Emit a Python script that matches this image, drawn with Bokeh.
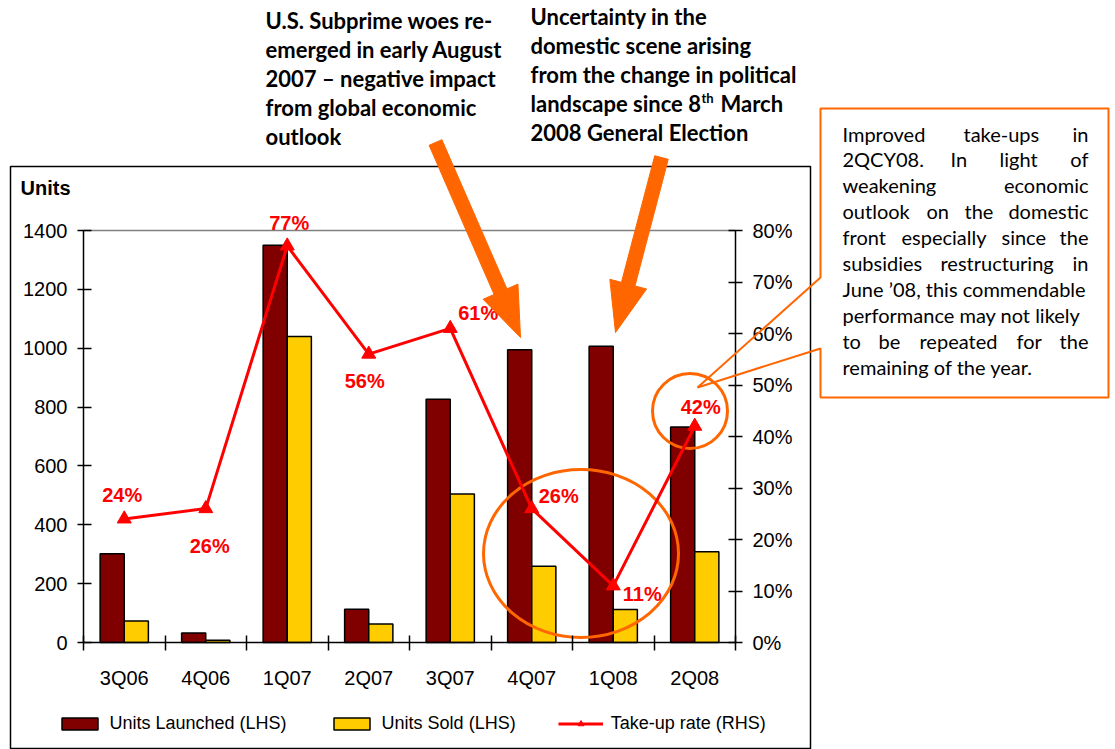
import math
from bokeh.plotting import figure
from bokeh.models import (Range1d, LinearAxis, FixedTicker, NumeralTickFormatter, Label,
                          LabelSet, ColumnDataSource, PolyAnnotation, Legend, LegendItem)
from bokeh.core.properties import value
from bokeh.embed import file_html
from bokeh.resources import INLINE

# ---------------- data ----------------
quarters = ["3Q06", "4Q06", "1Q07", "2Q07", "3Q07", "4Q07", "1Q08", "2Q08"]
units_launched = [302, 32, 1350, 113, 827, 995, 1007, 732]
units_sold = [73, 8, 1040, 63, 505, 259, 112, 308]
take_up_rate = [0.24, 0.26, 0.77, 0.56, 0.61, 0.26, 0.11, 0.42]
units_ticks = [0, 200, 400, 600, 800, 1000, 1200, 1400]
rate_ticks = [0, 0.1, 0.2, 0.3, 0.4, 0.5, 0.6, 0.7, 0.8]

# label placement (pixels) for the take-up labels
lab_dx = [-2, 4, 2, -4, 28, 27, 29, 6]
lab_dy = [24, -37, 23, -27, 15, 13, -8, 19]

# ---------------- layout ----------------
W, H = 1115, 749
FX0, FX1, FY0, FY1 = 83, 735, 230, 642
n = len(quarters)
YMAX = 1400
PMAX = 0.8
PXU = (FX1 - FX0) / n
PYU = (FY1 - FY0) / YMAX
PPU = (FY1 - FY0) / PMAX

ORANGE = "#FF6600"
MAROON = "#800000"
GOLD = "#FFCC00"
RED = "#FF0000"


def dx(px):
    return (px - FX0) / PXU


def dy(py):
    return (FY1 - py) / PYU


p = figure(width=W, height=H,
           x_range=Range1d(-FX0 / PXU, n + (W - FX1) / PXU),
           y_range=Range1d(-(H - FY1) / PYU, YMAX + FY0 / PYU),
           output_backend="svg", toolbar_location=None, min_border=0)
p.extra_y_ranges = {"pct": Range1d(-(H - FY1) / PPU, PMAX + FY0 / PPU)}
p.grid.visible = False
p.outline_line_color = None
p.background_fill_color = "white"
p.border_fill_color = "white"

AX_FONT = "Liberation Sans"

xa = p.xaxis[0]
xa.fixed_location = 0
xa.bounds = (0, n)
xa.ticker = FixedTicker(ticks=[i + 0.5 for i in range(n)], minor_ticks=list(range(n + 1)))
xa.major_label_overrides = {i + 0.5: q for i, q in enumerate(quarters)}
xa.major_tick_line_color = None
xa.major_tick_in = 0
xa.major_tick_out = 8
xa.minor_tick_in = 7
xa.minor_tick_out = 8
xa.minor_tick_line_color = "black"
xa.minor_tick_line_width = 1.5
xa.axis_line_color = "black"
xa.axis_line_width = 1.5
xa.major_label_standoff = 16
xa.major_label_text_font = AX_FONT
xa.major_label_text_font_size = "20px"
xa.major_label_text_color = "black"

ya = p.yaxis[0]
ya.fixed_location = 0
ya.bounds = (0, YMAX)
ya.ticker = FixedTicker(ticks=units_ticks)
ya.major_tick_in = 8
ya.major_tick_out = 6
ya.minor_tick_line_color = None
ya.major_tick_line_width = 1.5
ya.major_tick_line_color = "black"
ya.axis_line_width = 1.5
ya.axis_line_color = "black"
ya.major_label_standoff = 10
ya.major_label_text_font = AX_FONT
ya.major_label_text_font_size = "20px"
ya.major_label_text_color = "black"

ra = LinearAxis(y_range_name="pct", ticker=FixedTicker(ticks=rate_ticks),
                formatter=NumeralTickFormatter(format="0%"))
ra.fixed_location = n
ra.bounds = (0, PMAX)
ra.major_tick_in = 7
ra.major_tick_out = 7
ra.minor_tick_line_color = None
ra.major_tick_line_width = 1.5
ra.major_tick_line_color = "black"
ra.axis_line_width = 1.5
ra.axis_line_color = "black"
ra.major_label_standoff = 10
ra.major_label_text_font = AX_FONT
ra.major_label_text_font_size = "20px"
ra.major_label_text_color = "black"
p.add_layout(ra, "right")

src = ColumnDataSource(dict(
    xl=[i + 0.5 - 0.148 for i in range(n)],
    xs=[i + 0.5 + 0.148 for i in range(n)],
    xc=[i + 0.5 for i in range(n)],
    launched=units_launched,
    sold=units_sold,
    rate=take_up_rate,
    lab=[f"{round(r * 100)}%" for r in take_up_rate],
    ox=lab_dx,
    oy=lab_dy,
))

# plot-area top border
p.segment(x0=[0], y0=[YMAX], x1=[n], y1=[YMAX], line_color="#808080", line_width=1.5)

r1 = p.vbar(x="xl", top="launched", width=0.296, source=src, fill_color=MAROON,
            line_color="black", line_width=1.5)
r2 = p.vbar(x="xs", top="sold", width=0.296, source=src, fill_color=GOLD,
            line_color="black", line_width=1.5)

# highlight circles
p.ellipse(x=[dx(580.5), dx(689.5)], y=[dy(553), dy(410.5)], width=[195, 75], height=[168, 75],
          width_units="screen", height_units="screen", fill_alpha=0,
          line_color=ORANGE, line_width=3)

r3 = p.line(x="xc", y="rate", y_range_name="pct", source=src, line_color=RED, line_width=3)
r4 = p.scatter(x="xc", y="rate", y_range_name="pct", source=src, marker="triangle",
               size=14, fill_color=RED, line_color=RED)

p.add_layout(LabelSet(x="xc", y="rate", y_range_name="pct", text="lab", source=src,
                      x_offset="ox", y_offset="oy", text_align="center",
                      text_baseline="middle", text_color=RED, text_font=value(AX_FONT),
                      text_font_style="bold", text_font_size="20px"))

legend = Legend(items=[LegendItem(label="Units Launched (LHS)", renderers=[r1]),
                       LegendItem(label="Units Sold (LHS)", renderers=[r2]),
                       LegendItem(label="Take-up rate (RHS)", renderers=[r3, r4])],
                orientation="horizontal", location=(56.5, 15.5), glyph_width=45,
                glyph_height=15, label_standoff=8, spacing=42, padding=0, margin=0,
                border_line_color=None, background_fill_alpha=0,
                label_text_font=AX_FONT, label_text_font_size="18px",
                label_text_color="black")
p.add_layout(legend, "center")


# ---------------- decorations ----------------
def poly(points, **kw):
    xs = [dx(a) for a, b in points]
    ys = [dy(b) for a, b in points]
    return PolyAnnotation(xs=xs, ys=ys, **kw)


# outer chart border
p.add_layout(poly([(10, 166), (810, 166), (810, 748), (10, 748)], fill_alpha=0,
                  line_color="black", line_width=1.5, line_alpha=1))

# callout box with pointer
p.add_layout(poly([(820, 108), (1108, 108), (1108, 397), (820, 397), (820, 348),
                   (697, 387), (820, 277)], fill_alpha=0, line_color=ORANGE,
                  line_width=2, line_alpha=1))


def arrow_pts(x0, y0, x1, y1, shaft=14, head_len=50, head_w=38):
    L = math.hypot(x1 - x0, y1 - y0)
    ux, uy = (x1 - x0) / L, (y1 - y0) / L
    nx, ny = -uy, ux
    bx, by = x1 - ux * head_len, y1 - uy * head_len
    s, h = shaft / 2, head_w / 2
    return [(x0 + nx * s, y0 + ny * s), (bx + nx * s, by + ny * s), (bx + nx * h, by + ny * h),
            (x1, y1), (bx - nx * h, by - ny * h), (bx - nx * s, by - ny * s),
            (x0 - nx * s, y0 - ny * s)]


for (a, b, c, d) in [(435, 142, 520, 337), (661, 157, 615, 332)]:
    p.add_layout(poly(arrow_pts(a, b, c, d), fill_color=ORANGE, fill_alpha=1,
                      line_color=ORANGE, line_alpha=1, line_width=1))

# "Units" title
p.add_layout(Label(x=dx(20), y=dy(187), text="Units", text_font=AX_FONT, text_font_style="bold",
                   text_font_size="20px", text_baseline="middle", text_color="black"))

HFONT = "Lato"
head1 = ["U.S. Subprime woes re-", "emerged in early August", "2007 \u2013 negative impact",
         "from global economic", "outlook"]
for i, t in enumerate(head1):
    p.add_layout(Label(x=dx(265), y=dy(20 + 29 * i), text=t, text_font=HFONT,
                       text_font_style="bold", text_font_size="22px",
                       text_baseline="middle", text_color="black"))

head2 = ["Uncertainty in the", "domestic scene arising", "from the change in political",
         "landscape since 8", "2008 General Election"]
for i, t in enumerate(head2):
    p.add_layout(Label(x=dx(530), y=dy(16 + 29 * i), text=t, text_font=HFONT,
                       text_font_style="bold", text_font_size="22px",
                       text_baseline="middle", text_color="black"))
p.add_layout(Label(x=dx(701), y=dy(97), text="th", text_font=HFONT, text_font_style="bold",
                   text_font_size="13px", text_baseline="middle", text_color="black"))
p.add_layout(Label(x=dx(720), y=dy(103), text="March", text_font=HFONT, text_font_style="bold",
                   text_font_size="22px", text_baseline="middle", text_color="black"))

# callout text (justified by word placement)
callout = [
    [("Improved", 842, "left"), ("take-ups", 963, "left"), ("in", 1088, "right")],
    [("2QCY08.", 842, "left"), ("In", 950, "left"), ("light", 999, "left"), ("of", 1088, "right")],
    [("weakening", 842, "left"), ("economic", 1088, "right")],
    [("outlook", 842, "left"), ("on", 926, "left"), ("the", 964, "left"), ("domestic", 1088, "right")],
    [("front", 842, "left"), ("especially", 901, "left"), ("since", 1001, "left"), ("the", 1088, "right")],
    [("subsidies", 842, "left"), ("restructuring", 940, "left"), ("in", 1088, "right")],
    [("June \u201908, this commendable", 842, "left")],
    [("performance may not likely", 842, "left")],
    [("to", 842, "left"), ("be", 878, "left"), ("repeated", 919, "left"), ("for", 1016, "left"), ("the", 1088, "right")],
    [("remaining of the year.", 842, "left")],
]
for i, words in enumerate(callout):
    for (w, xx, al) in words:
        p.add_layout(Label(x=dx(xx), y=dy(133 + 25.9 * i), text=w, text_font=HFONT,
                           text_font_size="20px", text_baseline="middle",
                           text_align=al, text_color="black"))

open("out.html", "w").write(file_html(p, INLINE))
